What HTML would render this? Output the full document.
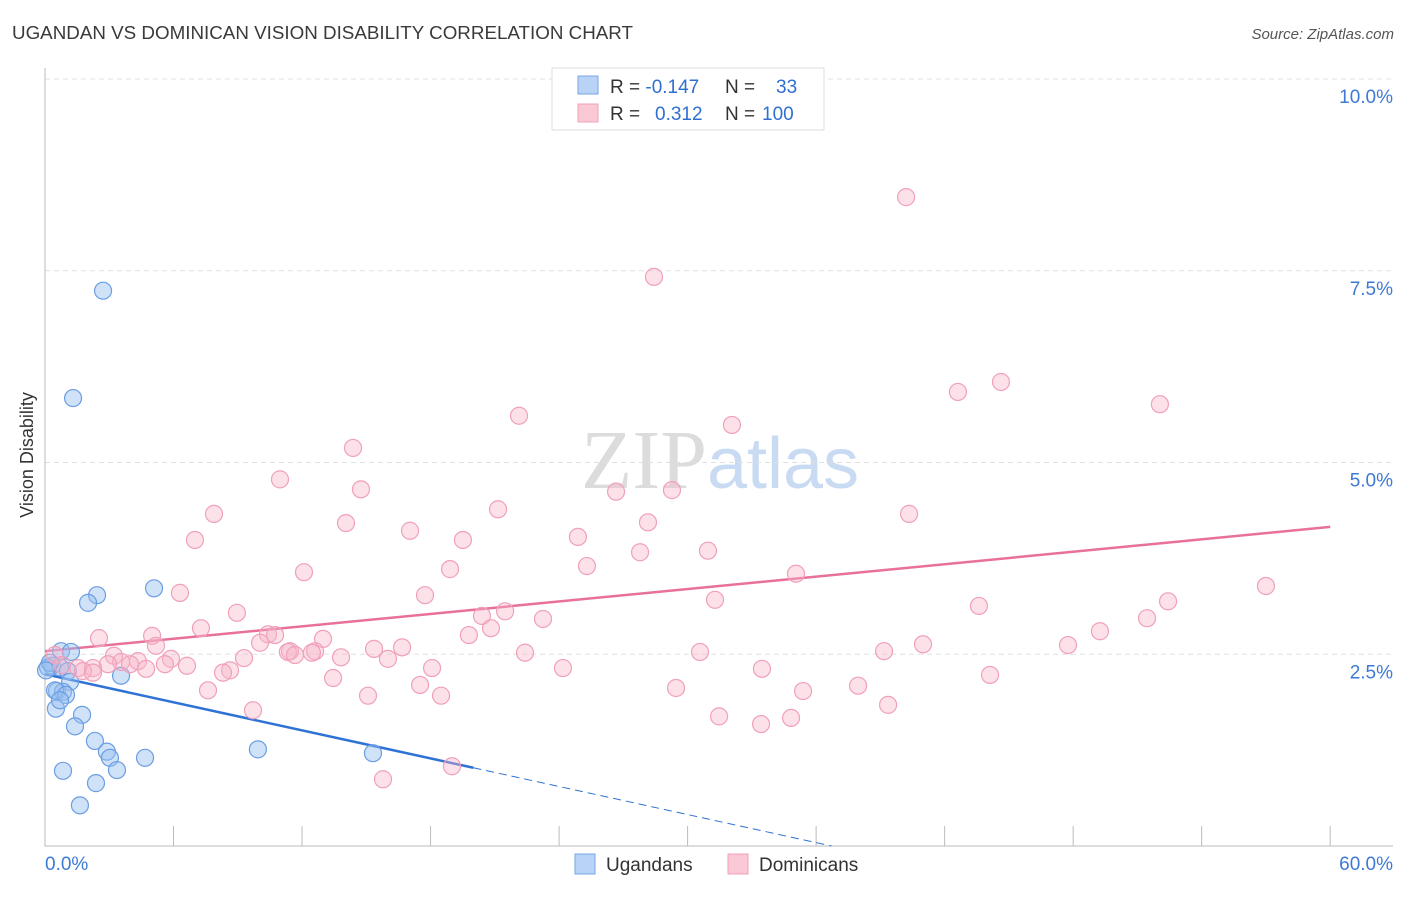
<!DOCTYPE html>
<html><head><meta charset="utf-8"><style>
body{margin:0;background:#fff;font-family:"Liberation Sans",sans-serif;}
svg text{font-family:"Liberation Sans",sans-serif;}
</style></head><body>
<svg id="chart" width="1406" height="892" viewBox="0 0 1406 892">
<text x="12" y="39" font-size="18" fill="#3a3a3a" textLength="621" lengthAdjust="spacingAndGlyphs">UGANDAN VS DOMINICAN VISION DISABILITY CORRELATION CHART</text>
<text x="1394" y="39" font-size="15" fill="#555" font-style="italic" text-anchor="end">Source: ZipAtlas.com</text>
<text x="720" y="488" font-size="84" text-anchor="middle"><tspan fill="#dcdcdc" font-family="Liberation Serif">ZIP</tspan><tspan fill="#c9dbf3" font-size="72">atlas</tspan></text>
<text transform="translate(33,455) rotate(-90)" font-size="18" fill="#333" text-anchor="middle">Vision Disability</text>
<g id="grid"></g><g id="axes"></g><g id="trend"></g><g id="pts"></g>
<g>
<rect x="552" y="68" width="272" height="62" fill="#fff" stroke="#ddd"/>
<rect x="578" y="76" width="20" height="18" fill="#b8d3f5" stroke="#7aa6e6"/>
<rect x="578" y="104" width="20" height="18" fill="#fbc8d6" stroke="#f0a0b8"/>
<text x="610" y="93" font-size="19" fill="#333">R = <tspan fill="#2f6fd0">-0.147</tspan><tspan x="725">N = </tspan><tspan x="776" fill="#2f6fd0">33</tspan></text>
<text x="610" y="120" font-size="19" fill="#333">R = <tspan x="655" fill="#2f6fd0">0.312</tspan><tspan x="725">N = </tspan><tspan x="762" fill="#2f6fd0">100</tspan></text>
</g>
<g>
<rect x="575" y="854" width="20" height="20" fill="#b8d3f5" stroke="#7aa6e6"/>
<text x="606" y="871" font-size="19" fill="#333">Ugandans</text>
<rect x="728" y="854" width="20" height="20" fill="#fbc8d6" stroke="#f0a0b8"/>
<text x="759" y="871" font-size="19" fill="#333">Dominicans</text>
</g>
</svg>
<script>
const yTicks=[10,7.5,5,2.5];
const yTickLabels=["10.0%","7.5%","5.0%","2.5%"];
const xTicks=[0,6,12,18,24,30,36,42,48,54,60];
const xEndLabels=["0.0%","60.0%"];
const ugX=[2.71,1.31,5.09,2.43,2.01,0.75,1.21,0.33,0.70,1.07,0.14,3.55,1.17,0.56,0.84,0.47,0.98,0.51,1.73,1.40,2.33,2.89,3.03,4.67,0.84,3.36,9.94,15.31,2.38,1.63,0.23,0.70,0.05];
const ugY=[7.24,5.84,3.36,3.27,3.17,2.54,2.53,2.35,2.33,2.28,2.33,2.22,2.14,2.02,2.01,2.03,1.97,1.79,1.71,1.56,1.37,1.23,1.15,1.15,0.98,0.99,1.26,1.21,0.82,0.53,2.39,1.90,2.29];
const doX=[40.20,28.43,44.63,42.62,52.05,22.13,32.07,14.38,10.97,14.75,26.66,29.27,7.89,21.15,40.34,14.05,28.15,17.04,7.00,24.88,19.51,27.78,30.95,25.30,18.91,12.09,35.06,6.30,17.74,57.00,31.28,52.43,43.60,21.48,8.96,20.40,51.45,23.25,20.82,7.28,19.79,49.25,2.52,5.00,10.41,10.74,12.98,10.04,16.67,5.18,40.99,47.76,15.36,11.44,11.34,12.61,12.46,39.17,22.41,30.58,3.22,5.88,13.82,9.29,11.67,16.01,4.34,3.55,3.97,5.60,6.63,2.94,1.54,2.24,1.77,4.72,18.07,8.64,33.47,8.31,2.24,24.18,44.12,13.45,17.51,7.61,29.46,37.96,35.39,18.49,15.08,39.36,9.71,31.47,33.43,34.83,0.47,0.79,15.78,19.00];
const doY=[8.46,7.42,6.05,5.92,5.76,5.61,5.49,5.19,4.78,4.65,4.62,4.64,4.33,4.39,4.33,4.21,4.22,4.11,3.99,4.03,3.99,3.83,3.85,3.65,3.61,3.57,3.55,3.30,3.27,3.39,3.21,3.19,3.13,3.06,3.04,3.00,2.97,2.96,2.84,2.84,2.75,2.80,2.71,2.74,2.76,2.75,2.70,2.65,2.59,2.61,2.63,2.62,2.57,2.54,2.53,2.54,2.52,2.54,2.52,2.53,2.48,2.44,2.46,2.45,2.49,2.44,2.41,2.40,2.37,2.37,2.35,2.37,2.32,2.32,2.28,2.31,2.32,2.29,2.31,2.26,2.26,2.32,2.23,2.19,2.10,2.03,2.06,2.09,2.02,1.96,1.96,1.84,1.77,1.69,1.59,1.67,2.49,2.36,0.87,1.04];
const ugTrend=[2.24,-0.061];
const doTrend=[2.54,0.027];
const X=v=>45+v*21.42, Y=v=>846-v*76.7;
const NS="http://www.w3.org/2000/svg";
function mk(parent,tag,attrs){const e=document.createElementNS(NS,tag);for(const k in attrs)e.setAttribute(k,attrs[k]);document.getElementById(parent).appendChild(e);return e;}
yTicks.forEach((t,i)=>{
 const g=mk('grid','line',{x1:45,x2:1393,y1:Y(t),y2:Y(t),stroke:'#e0e0e0','stroke-dasharray':'5,4'});
 
 
 const l=mk('grid','text',{x:1393,y:Y(t)+24,'font-size':19,fill:'#3d7ad6','text-anchor':'end'});
 l.textContent=yTickLabels[i];
 
 
});
const ax=mk('axes','path',{d:`M45 68 V846 H1393`,stroke:'#bbb',fill:'none'});


xTicks.forEach(t=>{
 if(t===0)return;
 const tk=mk('axes','line',{x1:X(t),x2:X(t),y1:826,y2:846,stroke:'#bbb'});
 
 
});
const l0=mk('axes','text',{x:45,y:870,'font-size':19,fill:'#3d7ad6'});l0.textContent=xEndLabels[0];


const l1=mk('axes','text',{x:1393,y:870,'font-size':19,fill:'#3d7ad6','text-anchor':'end'});l1.textContent=xEndLabels[1];


ugX.forEach((x,i)=>{
 const c=mk('pts','circle',{cx:X(x),cy:Y(ugY[i]),r:8.5,fill:'rgba(150,190,240,0.45)',stroke:'#6a9ee2','stroke-width':1.2});
 
 
});
doX.forEach((x,i)=>{
 const c=mk('pts','circle',{cx:X(x),cy:Y(doY[i]),r:8.5,fill:'rgba(248,180,200,0.4)',stroke:'#f0a0ba','stroke-width':1.2});
 
 
});
const f=(tr,x)=>tr[0]+tr[1]*x;
const zero=-ugTrend[0]/ugTrend[1];
const t1=mk('trend','line',{x1:X(0),y1:Y(f(ugTrend,0)),x2:X(20),y2:Y(f(ugTrend,20)),stroke:'#2f72d6','stroke-width':2.5});


const t2=mk('trend','line',{x1:X(20),y1:Y(f(ugTrend,20)),x2:X(zero),y2:Y(0),stroke:'#2f72d6','stroke-width':1,'stroke-dasharray':'8,5'});


const t3=mk('trend','line',{x1:X(0),y1:Y(f(doTrend,0)),x2:X(60),y2:Y(f(doTrend,60)),stroke:'#e8709a','stroke-width':2.5});


</script>
</body></html>
